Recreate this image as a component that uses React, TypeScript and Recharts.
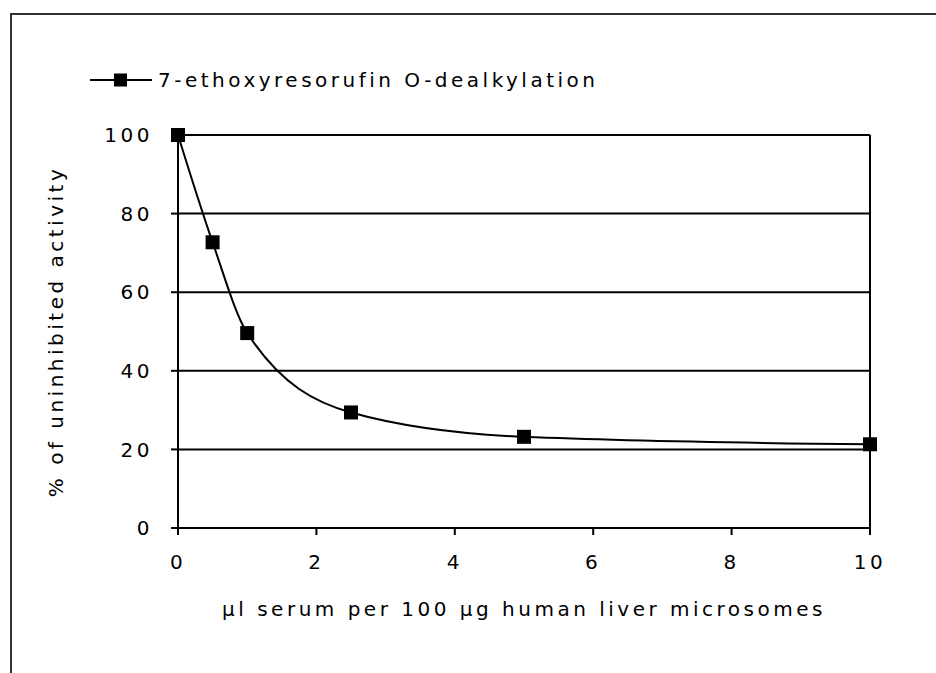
import React from 'react';
import { LineChart, Line, XAxis, YAxis, CartesianGrid, ReferenceLine, Legend, Label } from 'recharts';

const serumVolumes = [0, 0.5, 1, 2.5, 5, 10];
const activityPercent = [100, 72.7, 49.6, 29.4, 23.2, 21.3];
const xTicks = [0, 2, 4, 6, 8, 10];
const yTicks = [0, 20, 40, 60, 80, 100];
const seriesName = '7-ethoxyresorufin O-dealkylation';
const xTitle = 'µl serum per 100 µg human liver microsomes';
const yTitle = '% of uninhibited activity';

const data = serumVolumes.map((x, i) => ({ x, y: activityPercent[i] }));

const FONT = '"DejaVu Sans", Verdana, sans-serif';
const FS = 20;
const LS = 3.5;

const SquareDot = (props: any) => {
  const { cx, cy, index } = props;
  if (cx == null || cy == null) return <g key={`d-${index}`} />;
  return <rect key={`d-${index}`} x={cx - 7} y={cy - 7} width={14} height={14} fill="#000" />;
};

const LegendContent = () => (
  <div style={{ display: 'flex', alignItems: 'center', height: 24, fontFamily: FONT, fontSize: FS, letterSpacing: LS, color: '#000' }}>
    <svg width={64} height={16} style={{ display: 'block' }}>
      <line x1={0} y1={8} x2={62} y2={8} stroke="#000" strokeWidth={2} />
      <rect x={24} y={1.5} width={13} height={13} fill="#000" />
    </svg>
    <span style={{ marginLeft: 4, whiteSpace: 'nowrap' }}>{seriesName}</span>
  </div>
);

export default function App() {
  const tickStyle = { fontFamily: FONT, fontSize: FS, letterSpacing: LS, fill: '#000' } as any;
  return (
    <div style={{ position: 'absolute', left: 0, top: 0, width: 936, height: 673, overflow: 'hidden', background: '#fff' }}>
      <div style={{ position: 'absolute', left: 10, top: 13, width: 1000, height: 1000, borderTop: '2px solid #333', borderLeft: '2px solid #333' }} />
      <div style={{ position: 'absolute', left: 0, top: 0 }}>
        <LineChart width={936} height={673} data={data} margin={{ top: 135, right: 66, bottom: 21, left: 0 }}>
          <CartesianGrid horizontal={true} vertical={false} stroke="#000" strokeWidth={2} />
          <XAxis
            dataKey="x"
            type="number"
            domain={[0, 10]}
            ticks={xTicks}
            height={100}
            axisLine={{ stroke: '#000', strokeWidth: 2 }}
            tickLine={{ stroke: '#000', strokeWidth: 2 }}
            tickSize={7}
            tickMargin={20}
            tick={tickStyle}
            interval={0}
          >
            <Label
              content={(p: any) => {
                const vb = p.viewBox || {};
                return (
                  <text x={vb.x + vb.width / 2} y={vb.y + 81} textAnchor="middle" dominantBaseline="central" fontFamily={FONT} fontSize={FS} letterSpacing={LS} fill="#000">
                    {xTitle}
                  </text>
                );
              }}
            />
          </XAxis>
          <YAxis
            type="number"
            domain={[0, 100]}
            ticks={yTicks}
            width={178}
            axisLine={{ stroke: '#000', strokeWidth: 2 }}
            tickLine={{ stroke: '#000', strokeWidth: 2 }}
            tickSize={7}
            tickMargin={18}
            tick={tickStyle}
            interval={0}
          >
            <Label
              content={(p: any) => {
                const vb = p.viewBox || {};
                const cy = vb.y + vb.height / 2;
                return (
                  <text x={56} y={cy} transform={`rotate(-90 56 ${cy})`} textAnchor="middle" dominantBaseline="central" fontFamily={FONT} fontSize={FS} letterSpacing={LS} fill="#000">
                    {yTitle}
                  </text>
                );
              }}
            />
          </YAxis>
          <ReferenceLine x={10} stroke="#000" strokeWidth={2} />
          <Legend verticalAlign="bottom" content={<LegendContent />} wrapperStyle={{ position: 'absolute', top: 68, left: 90, width: 'auto', height: 24 }} />
          <Line
            type="monotone"
            dataKey="y"
            name={seriesName}
            stroke="#000"
            strokeWidth={2}
            dot={<SquareDot />}
            activeDot={false}
            isAnimationActive={false}
          />
        </LineChart>
      </div>
    </div>
  );
}
